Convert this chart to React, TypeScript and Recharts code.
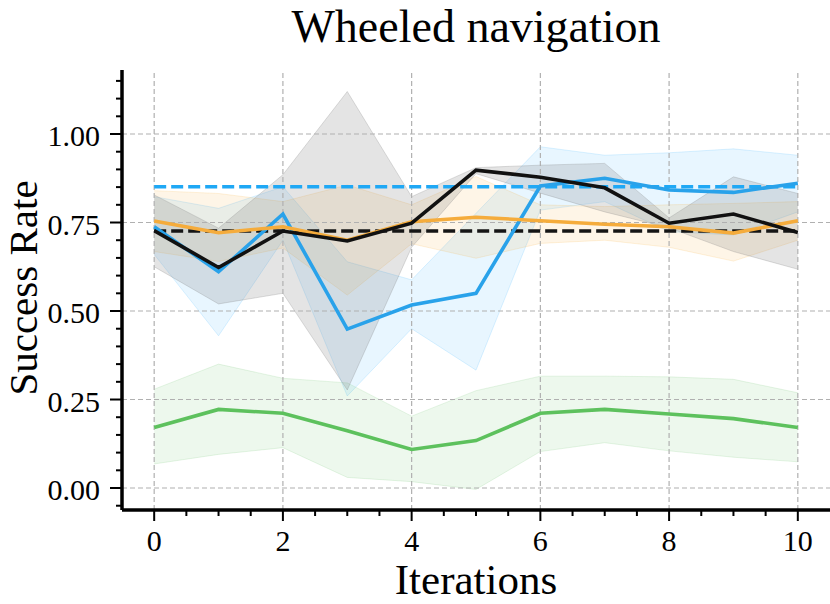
import React from 'react';
import { ComposedChart, Area, Line, XAxis, YAxis, ReferenceLine } from 'recharts';

// iterations on the x axis
const iterations = [0, 1, 2, 3, 4, 5, 6, 7, 8, 9, 10];

// blue run (mean + band)
const blueMean = [0.738, 0.611, 0.774, 0.449, 0.517, 0.55, 0.853, 0.875, 0.842, 0.835, 0.861];
const blueLow = [0.66, 0.43, 0.7, 0.26, 0.45, 0.333, 0.785, 0.809, 0.724, 0.715, 0.78];
const blueHigh = [0.823, 0.79, 0.851, 0.639, 0.588, 0.776, 0.964, 0.94, 0.947, 0.958, 0.94];

// black run
const blackMean = [0.727, 0.623, 0.726, 0.698, 0.748, 0.898, 0.878, 0.848, 0.748, 0.774, 0.722];
const blackLow = [0.625, 0.52, 0.55, 0.277, 0.68, 0.888, 0.833, 0.78, 0.735, 0.668, 0.618];
const blackHigh = [0.828, 0.734, 0.885, 1.12, 0.823, 0.905, 0.912, 0.917, 0.763, 0.879, 0.832];

// orange run
const orangeMean = [0.754, 0.721, 0.738, 0.7, 0.752, 0.765, 0.755, 0.745, 0.738, 0.72, 0.755];
const orangeLow = [0.668, 0.64, 0.678, 0.545, 0.69, 0.649, 0.691, 0.7, 0.68, 0.641, 0.7];
const orangeHigh = [0.84, 0.832, 0.809, 0.856, 0.8, 0.88, 0.8, 0.795, 0.8, 0.804, 0.809];

// green run
const greenMean = [0.171, 0.222, 0.211, 0.162, 0.109, 0.134, 0.211, 0.222, 0.209, 0.196, 0.171];
const greenLow = [0.068, 0.095, 0.114, 0.03, 0.018, -0.004, 0.103, 0.128, 0.105, 0.087, 0.074];
const greenHigh = [0.279, 0.35, 0.31, 0.297, 0.203, 0.275, 0.316, 0.316, 0.314, 0.307, 0.269];

// dashed reference levels
const blueBaseline = 0.851;
const blackBaseline = 0.726;

// ticks
const xMajorTicks = [0, 2, 4, 6, 8, 10];
const xAllTicks = [0, 0.5, 1, 1.5, 2, 2.5, 3, 3.5, 4, 4.5, 5, 5.5, 6, 6.5, 7, 7.5, 8, 8.5, 9, 9.5, 10];
const yMajorTicks = [0, 0.25, 0.5, 0.75, 1];
const yAllTicks = [
  -0.05, 0, 0.05, 0.1, 0.15, 0.2, 0.25, 0.3, 0.35, 0.4, 0.45, 0.5, 0.55, 0.6,
  0.65, 0.7, 0.75, 0.8, 0.85, 0.9, 0.95, 1, 1.05, 1.1, 1.15,
];

const W = 830;
const H = 604;
const MARGIN = { top: 70, right: 0, bottom: 0, left: 0 };
const Y_AXIS_W = 122;
const X_AXIS_H = 94;
const AXIS_X = MARGIN.left + Y_AXIS_W;
const AXIS_Y = H - MARGIN.bottom - X_AXIS_H;
const FONT = "'Liberation Serif', 'Times New Roman', serif";

const rows = iterations.map((it, i) => ({
  it,
  blue: blueMean[i],
  blueBand: [blueLow[i], blueHigh[i]],
  black: blackMean[i],
  blackBand: [blackLow[i], blackHigh[i]],
  orange: orangeMean[i],
  orangeBand: [orangeLow[i], orangeHigh[i]],
  green: greenMean[i],
  greenBand: [greenLow[i], greenHigh[i]],
  blueRef: blueBaseline,
  blackRef: blackBaseline,
}));

const isIn = (list: number[], v: number) => list.some((t) => Math.abs(t - v) < 1e-6);

const XTick = (props: any) => {
  const { x, payload } = props;
  const major = isIn(xMajorTicks, payload.value);
  return (
    <g>
      <line x1={x} x2={x} y1={AXIS_Y} y2={AXIS_Y + (major ? 11 : 6)} stroke="#000" strokeWidth={2} />
      {major && (
        <text x={x} y={AXIS_Y + 41} textAnchor="middle" fontSize={30} fontFamily={FONT} fill="#000">
          {payload.value}
        </text>
      )}
    </g>
  );
};

const YTick = (props: any) => {
  const { y, payload } = props;
  const major = isIn(yMajorTicks, payload.value);
  return (
    <g>
      <line x1={AXIS_X} x2={AXIS_X - (major ? 12 : 6)} y1={y} y2={y} stroke="#000" strokeWidth={2} />
      {major && (
        <text x={AXIS_X - 22} y={y + 12} textAnchor="end" fontSize={30} fontFamily={FONT} fill="#000">
          {payload.value.toFixed(2)}
        </text>
      )}
    </g>
  );
};

const bandProps = { type: 'linear' as const, strokeWidth: 1, isAnimationActive: false, activeDot: false, dot: false };
const lineProps = { type: 'linear' as const, strokeWidth: 3.6, isAnimationActive: false, dot: false, activeDot: false };

export default function App() {
  return (
    <div style={{ position: 'absolute', left: 0, top: 0, width: W, height: H, background: '#fff' }}>
      <ComposedChart width={W} height={H} data={rows} margin={MARGIN}>
        <XAxis
          dataKey="it"
          type="number"
          domain={[-0.5, 10.5]}
          ticks={xAllTicks}
          interval={0}
          height={X_AXIS_H}
          tick={<XTick />}
          tickLine={false}
          axisLine={{ stroke: '#000', strokeWidth: 3.5 }}
          allowDataOverflow
        />
        <YAxis
          type="number"
          domain={[-0.0621, 1.1808]}
          ticks={yAllTicks}
          interval={0}
          width={Y_AXIS_W}
          tick={<YTick />}
          tickLine={false}
          axisLine={{ stroke: '#000', strokeWidth: 3.5 }}
          allowDataOverflow
        />

        <Area dataKey="blueBand" {...bandProps} fill="#1ea7fd" fillOpacity={0.1} stroke="#1ea7fd" strokeOpacity={0.15} />
        <Area dataKey="orangeBand" {...bandProps} fill="#f5a623" fillOpacity={0.11} stroke="#f5a623" strokeOpacity={0.15} />
        <Area dataKey="greenBand" {...bandProps} fill="#5cbf5c" fillOpacity={0.11} stroke="#5cbf5c" strokeOpacity={0.15} />
        <Area dataKey="blackBand" {...bandProps} fill="#7a7a7a" fillOpacity={0.2} stroke="#7a7a7a" strokeOpacity={0.25} />

        {xMajorTicks.map((v) => (
          <ReferenceLine key={'gx' + v} x={v} stroke="#b0b0b0" strokeWidth={1.2} strokeDasharray="5 3" />
        ))}
        {yMajorTicks.map((v) => (
          <ReferenceLine key={'gy' + v} y={v} stroke="#b0b0b0" strokeWidth={1.2} strokeDasharray="5 3" />
        ))}

        <Line dataKey="blueRef" {...lineProps} stroke="#1fa8f5" strokeDasharray="12 5" />
        <Line dataKey="blackRef" {...lineProps} stroke="#151515" strokeDasharray="12 5" />
        <Line dataKey="green" {...lineProps} stroke="#5dc15d" />
        <Line dataKey="blue" {...lineProps} stroke="#29a2ea" />
        <Line dataKey="orange" {...lineProps} stroke="#f5ac3c" />
        <Line dataKey="black" {...lineProps} stroke="#111111" />
      </ComposedChart>

      <svg width={W} height={H} style={{ position: 'absolute', left: 0, top: 0, pointerEvents: 'none' }}>
        <text x={476} y={42} textAnchor="middle" fontSize={46} fontFamily={FONT} fill="#000">
          Wheeled navigation
        </text>
        <text x={476} y={594} textAnchor="middle" fontSize={43} fontFamily={FONT} fill="#000">
          Iterations
        </text>
        <text
          transform="translate(37, 288) rotate(-90)"
          textAnchor="middle"
          fontSize={41}
          fontFamily={FONT}
          fill="#000"
        >
          Success Rate
        </text>
      </svg>
    </div>
  );
}
